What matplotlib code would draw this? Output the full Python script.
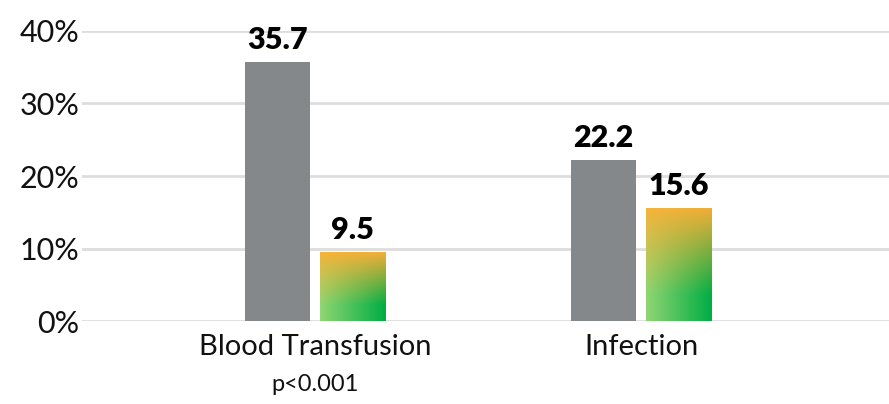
import numpy as np
import matplotlib.pyplot as plt
from matplotlib.colors import to_rgb

plt.rcParams['font.family'] = ['Lato', 'DejaVu Sans']

categories = ['Blood Transfusion', 'Infection']
subtitles = ['p<0.001', '']
gray_vals = [35.7, 22.2]
grad_vals = [9.5, 15.6]
yticks = [0, 10, 20, 30, 40]
ytick_labels = ['0%', '10%', '20%', '30%', '40%']

gray = '#85888a'
# corner colours of the gradient bars
c_tl = np.array(to_rgb('#f6b43a'))
c_tr = np.array(to_rgb('#f2ae37'))
c_bl = np.array(to_rgb('#90d672'))
c_br = np.array(to_rgb('#00ad45'))

fig = plt.figure(figsize=(8.89, 4.04), dpi=100)
ax = fig.add_axes([0.0922, 0.2054, 0.9078, 0.7179])

x = np.arange(len(categories))
w = 0.2
gap = 0.03

b1 = ax.bar(x - gap / 2 - w / 2, gray_vals, w, color=gray, zorder=3)
b2 = ax.bar(x + gap / 2 + w / 2, grad_vals, w, color='none', zorder=3)

# gradient fill for the second series
n = 100
u = np.linspace(0, 1, n)[None, :, None]   # left -> right
v = np.linspace(0, 1, n)[:, None, None]   # top -> bottom
v2 = np.clip(v * 1.3, 0, 1)
img = ((1 - u) * (1 - v2) * c_tl + u * (1 - v2) * c_tr
       + (1 - u) * v2 * c_bl + u * v2 * c_br)
for bar in b2:
    x0, y0 = bar.get_x(), bar.get_y()
    im = ax.imshow(img, extent=[x0, x0 + bar.get_width(), y0, y0 + bar.get_height()],
                   aspect='auto', zorder=3, interpolation='bilinear')
    im.set_clip_path(bar)

for bars, vals in [(b1, gray_vals), (b2, grad_vals)]:
    for bar, val in zip(bars, vals):
        ax.annotate(f'{val}', (bar.get_x() + bar.get_width() / 2, bar.get_height()),
                    xytext=(0, 6), textcoords='offset points', ha='center', va='bottom',
                    fontsize=22, fontweight='heavy', color='black')

ax.set_xlim(-0.715, 1.76)
ax.set_ylim(0, 40)
ax.set_yticks(yticks)
ax.set_yticklabels(ytick_labels, fontsize=22, color='#111111')
ax.set_xticks(x)
ax.set_xticklabels(categories, fontsize=21, color='#111111')
ax.tick_params(axis='both', length=0)
ax.tick_params(axis='x', pad=9)
ax.tick_params(axis='y', pad=2)
ax.yaxis.grid(True, color='#dddddd', linewidth=2)
ax.set_axisbelow(True)
for s in ax.spines.values():
    s.set_visible(False)

for xi, sub in zip(x, subtitles):
    if sub:
        ax.annotate(sub, (xi, 0), xytext=(0, -38), textcoords='offset points',
                    ha='center', va='top', fontsize=17, color='#111111')

fig.savefig('out.png', dpi=100)
